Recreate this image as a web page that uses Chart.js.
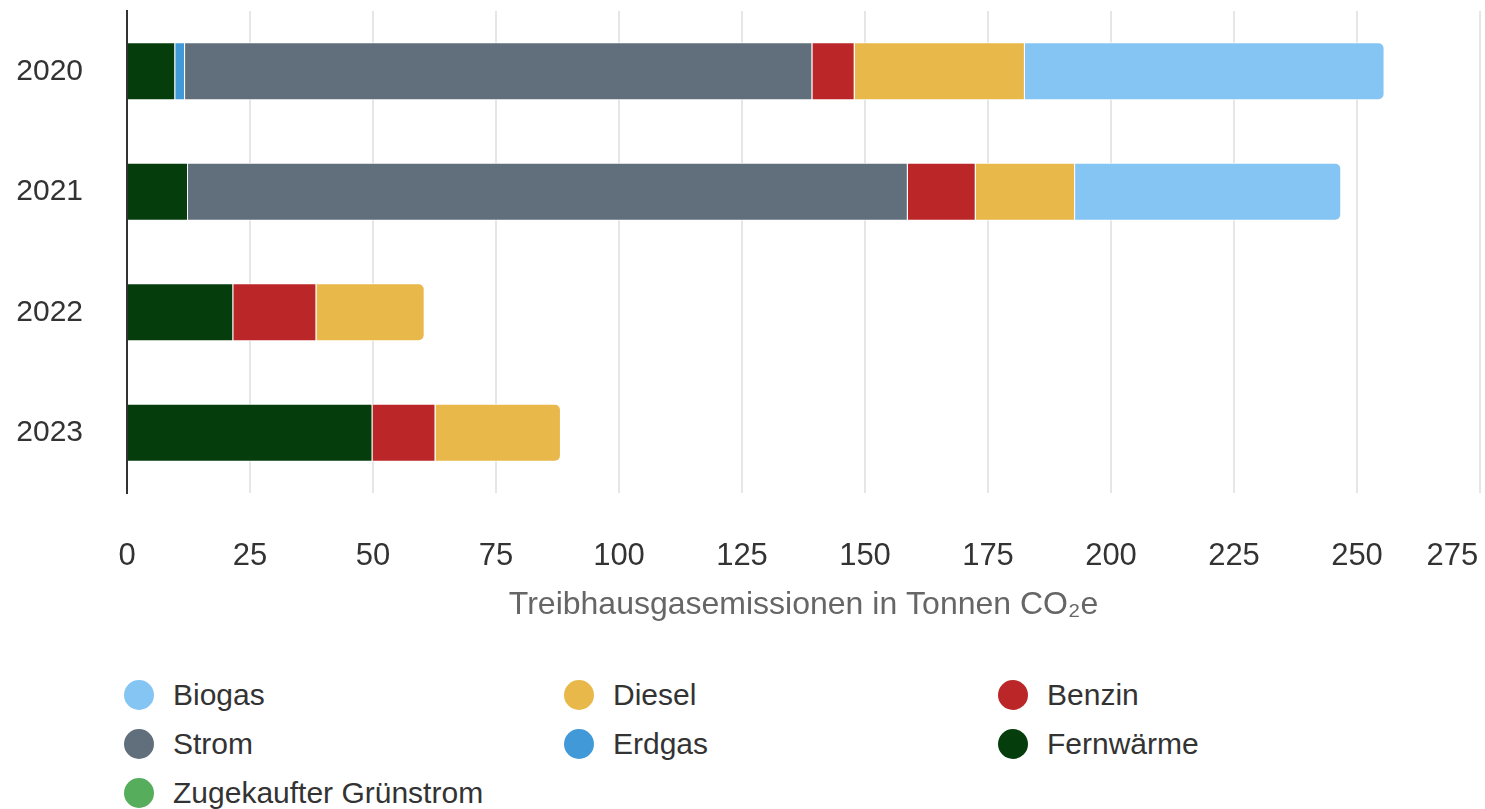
<!DOCTYPE html>
<html>
<head>
<meta charset="utf-8">
<script src="https://cdn.jsdelivr.net/npm/chart.js@4"></script>
<style>
  body { margin: 0; background: #fff; font-family: "Liberation Sans", Arial, sans-serif; }
  #wrap { position: relative; width: 1485px; height: 809px; }
  #chartBox { position: absolute; left: 0; top: 0; width: 1485px; height: 630px; }
  .lg { position: absolute; display: flex; align-items: center; font-size: 30px; color: #333; white-space: nowrap; }
  .lg span.dot { display: inline-block; width: 30px; height: 30px; border-radius: 50%; margin-right: 19px; }
</style>
</head>
<body>
<div id="wrap">
  <div id="chartBox"><canvas id="myChart"></canvas></div>
  <div id="legend"></div>
</div>
<script>
// years on the y axis
years = ['2020', '2021', '2022', '2023']

// tonnes CO2e per energy source
fernwaerme = [9.8, 12.4, 21.6, 49.9]
erdgas = [2.0, 0, 0, 0]
strom = [127.5, 146.3, 0, 0]
benzin = [8.6, 13.8, 16.9, 12.8]
diesel = [34.6, 20.2, 22.0, 25.5]
biogas = [73.1, 54.1, 0, 0]
gruenstrom = [0, 0, 0, 0]

xTicks = [0, 25, 50, 75, 100, 125, 150, 175, 200, 225, 250, 275]
axisTitle = 'Treibhausgasemissionen in Tonnen CO\u2082e'

// stack order, left to right
series = [
  { label: 'Fernwärme', data: fernwaerme, color: '#063d0c' },
  { label: 'Erdgas', data: erdgas, color: '#4299d8' },
  { label: 'Strom', data: strom, color: '#616f7c' },
  { label: 'Benzin', data: benzin, color: '#bb2628' },
  { label: 'Diesel', data: diesel, color: '#e8b84b' },
  { label: 'Biogas', data: biogas, color: '#85c5f3' },
  { label: 'Zugekaufter Grünstrom', data: gruenstrom, color: '#56ad5c' }
]

// legend order as in the picture (3 columns)
legendOrder = ['Biogas', 'Diesel', 'Benzin', 'Strom', 'Erdgas', 'Fernwärme', 'Zugekaufter Grünstrom']

function isLastSegment(dsIndex, i)
{
  for (var d = dsIndex + 1; d < series.length; d++)
  {
    if (series[d].data[i] > 0) return false
  }
  return true
}

var datasets = series.map(function(s, d) {
  return {
    label: s.label,
    data: s.data.map(function(v) { return v > 0 ? v : null }),
    backgroundColor: s.color,
    borderColor: '#ffffff',
    borderWidth: 1,
    borderRadius: function(ctx) { return isLastSegment(d, ctx.dataIndex) ? 6 : 0 },
    borderSkipped: 'start',
    categoryPercentage: 0.8,
    barPercentage: 0.6
  }
})

var ctx = document.getElementById('myChart').getContext('2d')
var myChart = new Chart(ctx, {
  type: 'bar',
  data: { labels: years, datasets: datasets },
  options: {
    indexAxis: 'y',
    responsive: true,
    maintainAspectRatio: false,
    animation: false,
    layout: { padding: { left: 17, top: 11, right: 5, bottom: 6 } },
    plugins: {
      legend: { display: false },
      tooltip: { enabled: false }
    },
    scales: {
      x: {
        stacked: true,
        min: 0,
        max: 275,
        afterBuildTicks: function(scale) {
          scale.ticks = xTicks.map(function(v) { return { value: v } })
        },
        afterFit: function(scale) {
          scale.paddingRight = 0
          scale.paddingLeft = 0
          scale.height = 131
        },
        grid: { color: '#e6e6e6', lineWidth: 2, drawTicks: false },
        border: { display: false },
        ticks: {
          padding: 45,
          color: '#333',
          font: { family: 'Liberation Sans', size: 31 },
          maxRotation: 0,
          autoSkip: false,
          // last label sits inside the chart like in the picture
          callback: function(v) { return v === 275 ? '275\u2002\u2002\u2002 ' : String(v) }
        },
        title: {
          display: true,
          text: axisTitle,
          color: '#666',
          font: { family: 'Liberation Sans', size: 32 },
          padding: { top: 18, bottom: 0 }
        }
      },
      y: {
        stacked: true,
        afterFit: function(scale) {
          scale.width = 110
          scale.paddingTop = 0
          scale.paddingBottom = 0
        },
        grid: { display: false, drawTicks: false },
        border: { display: true, color: '#333', width: 2 },
        ticks: {
          padding: 44,
          color: '#333',
          font: { family: 'Liberation Sans', size: 30 }
        }
      }
    }
  }
})

// html legend
var legendPos = [
  [124, 680], [564, 680], [998, 680],
  [124, 729], [564, 729], [998, 729],
  [124, 778]
]
var legendBox = document.getElementById('legend')
for (var k = 0; k < legendOrder.length; k++)
{
  var s = series.find(function(x) { return x.label === legendOrder[k] })
  var el = document.createElement('div')
  el.className = 'lg'
  el.style.left = legendPos[k][0] + 'px'
  el.style.top = legendPos[k][1] + 'px'
  el.style.height = '30px'
  el.innerHTML = '<span class="dot" style="background:' + s.color + '"></span>' + s.label
  legendBox.appendChild(el)
}
</script>
</body>
</html>
